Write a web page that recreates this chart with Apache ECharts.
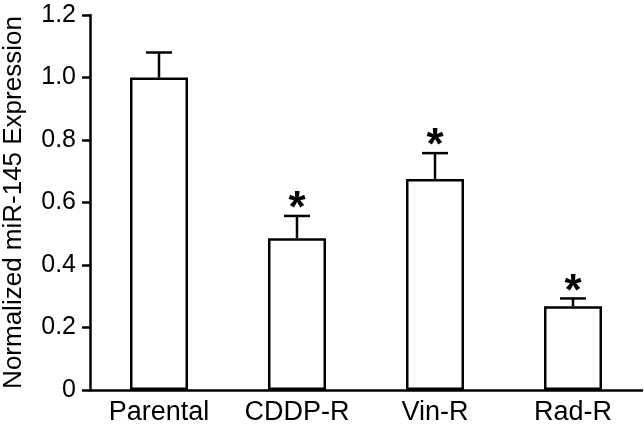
<!DOCTYPE html>
<html>
<head>
<meta charset="utf-8">
<script src="https://cdn.jsdelivr.net/npm/echarts@6/dist/echarts.min.js"></script>
<style>
html,body{margin:0;padding:0;background:#fff;}
#chart{width:644px;height:427px;}
</style>
</head>
<body>
<div id="chart"></div>
<script>
const categories = ['Parental', 'CDDP-R', 'Vin-R', 'Rad-R'];
const means = [1.0, 0.486, 0.675, 0.268];
const errors = [0.08, 0.071, 0.083, 0.025];
const significant = [false, true, true, true];

const FONT = "'Liberation Sans', Arial, sans-serif";
const chart = echarts.init(document.getElementById('chart'), null, {renderer: 'canvas'});

const errData = categories.map((c, i) => [i, means[i], means[i] + errors[i], significant[i] ? 1 : 0]);

chart.setOption({
  animation: false,
  backgroundColor: '#fff',
  grid: {left: 90, right: 2, top: 15, bottom: 37, containLabel: false, outerBoundsMode: 'none'},
  xAxis: {
    type: 'category',
    data: categories,
    boundaryGap: true,
    axisLine: {show: true, lineStyle: {color: '#000', width: 2.5}},
    axisTick: {show: false},
    axisLabel: {color: '#000', fontSize: 27, fontFamily: FONT, margin: 9},
    splitLine: {show: false}
  },
  yAxis: {
    type: 'value',
    min: 0,
    max: 1.2,
    interval: 0.2,
    name: 'Normalized miR-145 Expression',
    nameLocation: 'middle',
    nameGap: 63,
    nameRotate: 90,
    nameTextStyle: {color: '#000', fontSize: 26, fontFamily: FONT},
    axisLine: {show: true, lineStyle: {color: '#000', width: 2.5}},
    axisTick: {show: true, length: 8, lineStyle: {color: '#000', width: 2.5}},
    axisLabel: {
      color: '#000', fontSize: 25, fontFamily: FONT, margin: 14,
      formatter: v => (Math.abs(v) < 1e-9 ? '0' : v.toFixed(1))
    },
    splitLine: {show: false}
  },
  series: [
    {
      type: 'bar',
      data: means,
      barWidth: 58,
      itemStyle: {color: '#fff', borderColor: '#000', borderWidth: 2.5},
      z: 2
    },
    {
      type: 'custom',
      data: errData,
      z: 3,
      renderItem: function (params, api) {
        const i = api.value(0);
        const base = api.coord([i, api.value(1)]);
        const top = api.coord([i, api.value(2)]);
        const half = 13;
        const children = [
          {type: 'line', shape: {x1: base[0], y1: base[1], x2: top[0], y2: top[1]},
           style: {stroke: '#000', lineWidth: 2.5}},
          {type: 'line', shape: {x1: top[0] - half, y1: top[1], x2: top[0] + half, y2: top[1]},
           style: {stroke: '#000', lineWidth: 2.5}}
        ];
        if (api.value(3) === 1) {
          children.push({
            type: 'text',
            style: {
              text: '*', x: top[0], y: top[1] - 6,
              fontSize: 44, fontWeight: 'bold', fontFamily: FONT,
              fill: '#000', align: 'center', verticalAlign: 'middle'
            }
          });
        }
        return {type: 'group', children: children};
      }
    }
  ]
});
</script>
</body>
</html>
